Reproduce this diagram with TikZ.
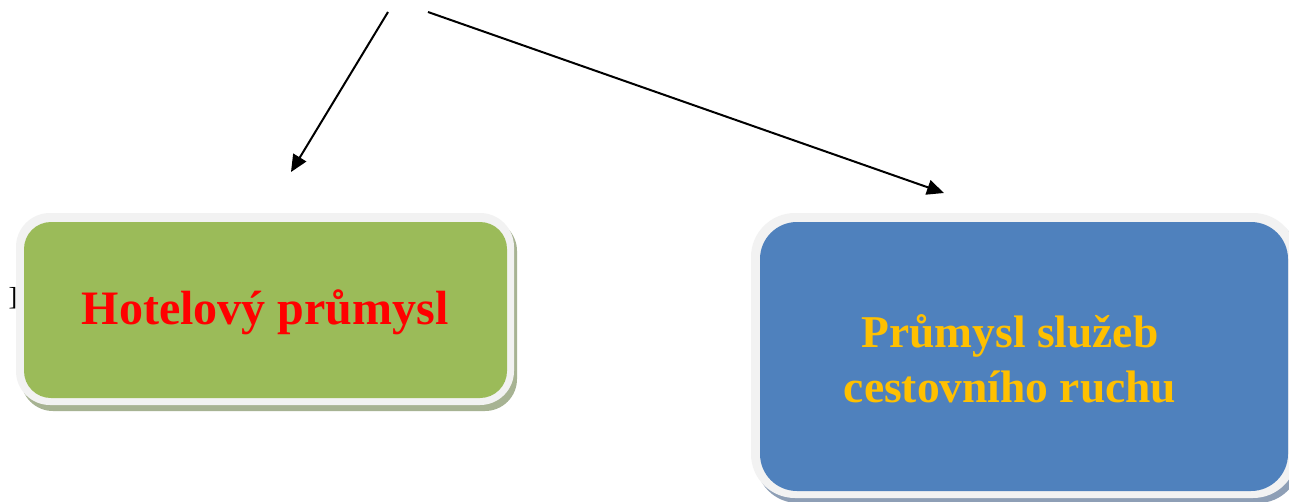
\documentclass[tikz,border=0pt]{standalone}
\usepackage{fontspec}
\setmainfont{Liberation Serif}
\usetikzlibrary{arrows.meta}
\definecolor{boxgreen}{HTML}{9BBB59}
\definecolor{boxblue}{HTML}{4F81BD}
\definecolor{rimgray}{HTML}{F2F2F2}
\definecolor{shadegreen}{HTML}{A7B393}
\definecolor{shadeblue}{HTML}{8E9FB6}
\definecolor{textred}{HTML}{FF0000}
\definecolor{textgold}{HTML}{FFC000}
\tikzset{
  arr/.style={line width=2pt, draw=black, -{Triangle[length=17pt,width=15pt]}},
  label48/.style={font=\fontsize{48}{55}\selectfont\bfseries, inner sep=0pt, align=center},
  label45/.style={font=\fontsize{45.5}{55}\selectfont\bfseries, inner sep=0pt, align=center}
}
\begin{document}
\begin{tikzpicture}[x=1pt,y=-1pt]
\useasboundingbox (0,0) rectangle (1289,501);
\fill[white] (0,0) rectangle (1289,501);
\begin{scope}
\clip (0,0) rectangle (1289,501);
% green box
\fill[shadegreen, rounded corners=32pt] (21,219) rectangle (517,411);
\fill[rimgray, rounded corners=34pt] (16,213) rectangle (514,405);
\fill[boxgreen, rounded corners=27pt] (24,222) rectangle (507,398);
% blue box
\fill[shadeblue, rounded corners=42pt] (756,218) rectangle (1300,503);
\fill[rimgray, rounded corners=44pt] (751,213) rectangle (1297,498);
\fill[boxblue, rounded corners=37pt] (760,222) rectangle (1288,491);
\end{scope}
\node[font=\fontsize{26}{28}\selectfont, inner sep=0pt, anchor=base] (br) at (13,305) {]};
\node[label48, text=textred, anchor=base] (hotel) at (265,324) {Hotelový průmysl};
\node[label45, text=textgold, anchor=base] (sluzby) at (1010,402) {Průmysl služeb\\cestovního ruchu};
\coordinate (s1) at (388,12);
\coordinate (e1) at (291,172);
\coordinate (s2) at (428,12);
\coordinate (e2) at (944,193);
\draw[arr] (s1) -- (e1);
\draw[arr] (s2) -- (e2);
\end{tikzpicture}
\end{document}
